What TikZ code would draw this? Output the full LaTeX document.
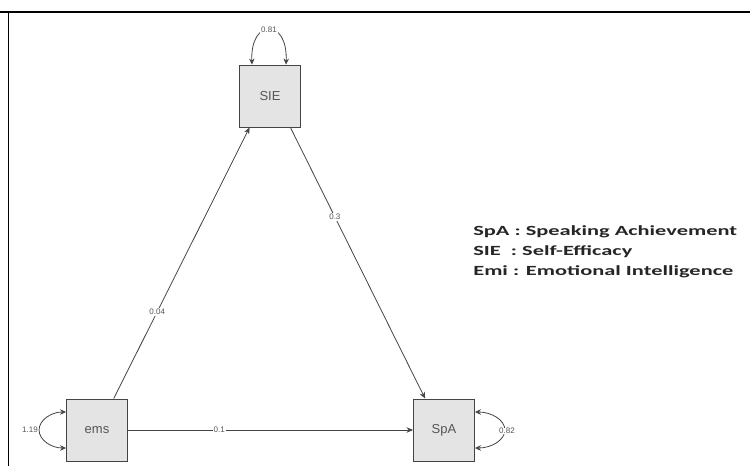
\documentclass[tikz,border=0pt]{standalone}
\usepackage{fontspec}
\setmainfont{Liberation Sans}
\newfontfamily\legendfont{Carlito}
\usetikzlibrary{arrows.meta}
\definecolor{boxfill}{HTML}{E4E4E4}
\definecolor{edgegray}{HTML}{444444}
\definecolor{txtgray}{HTML}{555555}
\tikzset{
  varbox/.style={draw=edgegray, line width=0.9pt, fill=boxfill, minimum width=61pt, minimum height=62pt, inner sep=0pt, font=\fontsize{13}{15}\selectfont, text=txtgray},
  path/.style={draw=edgegray, line width=0.8pt, -{Stealth[length=6.5pt,width=5.5pt]}},
  loopline/.style={draw=edgegray, line width=0.8pt, {Stealth[length=6pt,width=5.5pt]}-{Stealth[length=6pt,width=5.5pt]}},
  coef/.style={fill=white, inner sep=1pt, font=\fontsize{8}{9}\selectfont, text=txtgray},
  sidecoef/.style={fill=white, inner sep=0.5pt, font=\fontsize{8}{9}\selectfont, text=txtgray},
  legend/.style={anchor=west, inner sep=0pt, xscale=1.6, font=\legendfont\bfseries\fontsize{14}{16}\selectfont, text=black!85}
}
\begin{document}
\begin{tikzpicture}[x=1pt,y=-1pt]
\useasboundingbox (0,0) rectangle (750,466);
\fill[white] (0,0) rectangle (750,466);
\draw[black, line width=1.6pt] (0,12) -- (750,12);
\draw[black, line width=1pt] (8,12) -- (8,466);

\node[varbox] (SIE) at (270,96) {SIE};
\node[varbox] (ems) at (97,430) {ems};
\node[varbox] (SpA) at (444,430) {SpA};

\draw[path] (ems.62) -- node[coef, pos=0.32] {0.04} (SIE.237);
\draw[path] (SIE.303) -- node[coef, pos=0.33] {0.3} (SpA.121);
\draw[path] (ems.east) -- node[coef, pos=0.32] {0.1} (SpA.west);

\coordinate (sieL) at ([xshift=-18pt]SIE.north);
\coordinate (sieR) at ([xshift=16pt]SIE.north);
\draw[loopline] (sieL) .. controls (250,18) and (288,18) .. node[coef, pos=0.5] {0.81} (sieR);

\coordinate (emsT) at ([yshift=18pt]ems.west);
\coordinate (spaT) at ([yshift=18pt]SpA.east);
\draw[loopline] (emsT) arc[start angle=90, end angle=270, x radius=27pt, y radius=18pt];
\node[sidecoef] (emsvar) at (30,430) {1.19};

\draw[loopline] (spaT) arc[start angle=90, end angle=-90, x radius=30pt, y radius=18pt];
\node[sidecoef] (spavar) at (507,431) {0.82};

\node[legend] (l1) at (473,232) {SpA : Speaking Achievement};
\node[legend] (l2) at (473,252) {SIE\ \ : Self-Efficacy};
\node[legend] (l3) at (473,272) {Emi : Emotional Intelligence};
\end{tikzpicture}
\end{document}
